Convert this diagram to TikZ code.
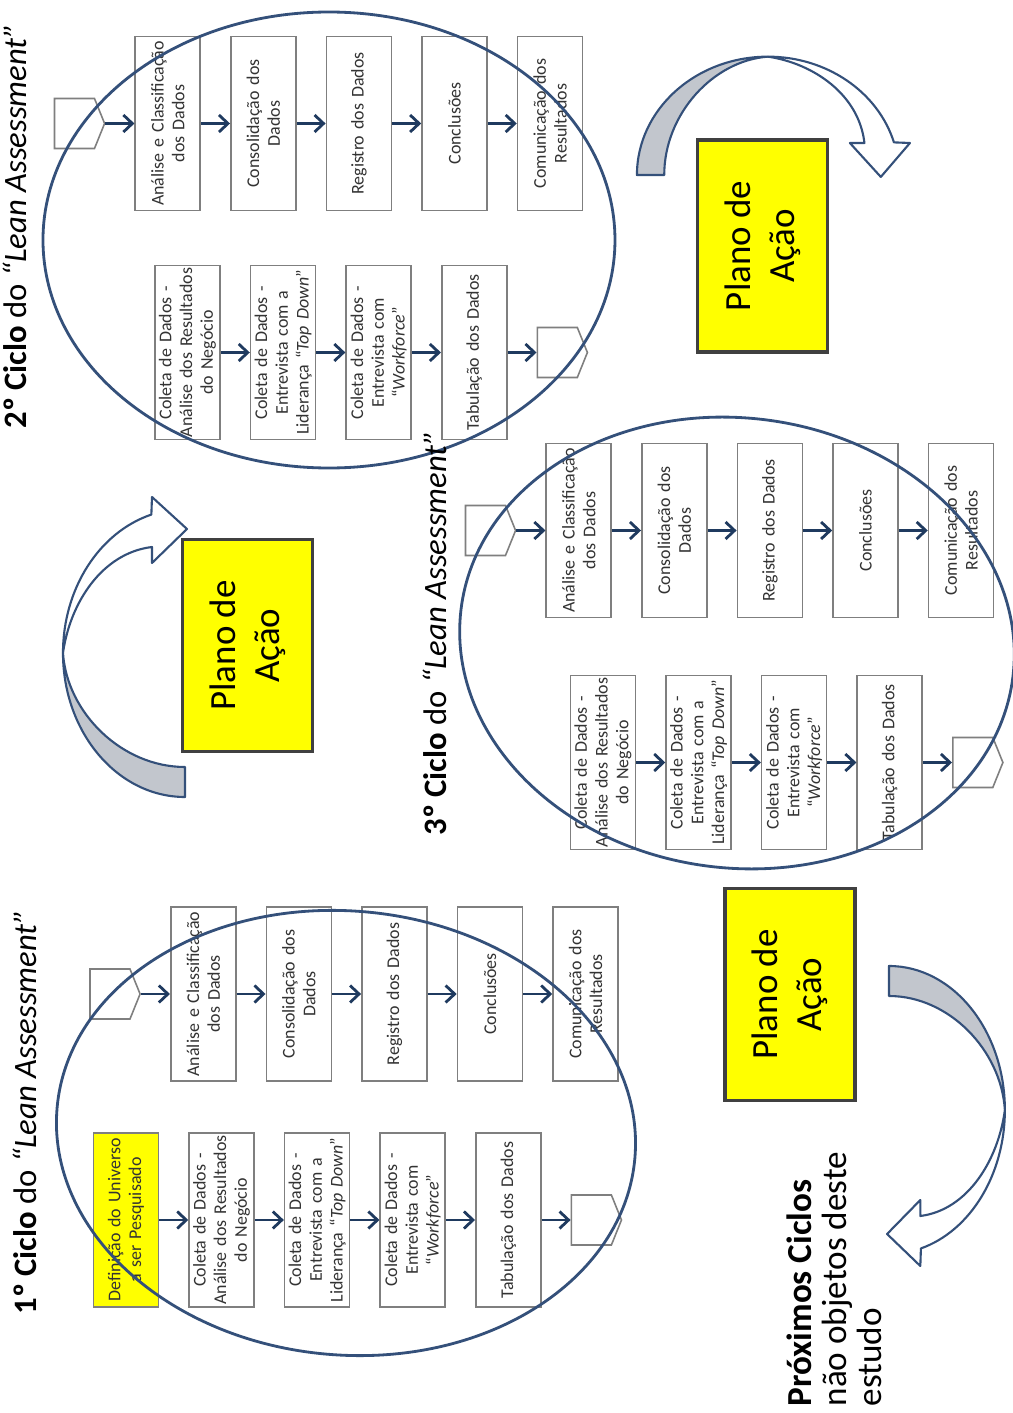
\documentclass[tikz,border=0pt]{standalone}
\usepackage{fontspec}
\setmainfont{Carlito}
\usetikzlibrary{arrows.meta,positioning,shapes.symbols}
\definecolor{ovalblue}{HTML}{34507A}
\definecolor{arrownavy}{HTML}{1F3A5F}
\definecolor{boxgrey}{HTML}{7F7F7F}
\definecolor{textgrey}{HTML}{333333}
\definecolor{planyellow}{HTML}{FFFF00}
\definecolor{ribbongrey}{HTML}{C2C6CD}
\tikzset{
  stepbox/.style={
    rectangle, draw=boxgrey, line width=0.45pt, fill=#1,
    minimum width=1.74cm, minimum height=0.65cm, text width=1.74cm,
    align=center, inner sep=0pt, text=textgrey,
    font=\fontsize{5.1}{5.9}\selectfont
  },
  stepbox/.default=white,
  offpage/.style={
    signal, signal to=south, signal pointer angle=136,
    draw=boxgrey, line width=0.45pt, fill=white,
    minimum width=0.5cm, minimum height=0.4cm, inner sep=0pt
  },
  stepflow/.style={-{Straight Barb[length=0.9mm,width=1.7mm]}, line width=0.8pt, draw=arrownavy},
  cycleoval/.style={draw=ovalblue, line width=0.8pt},
  cycletitle/.style={anchor=base, inner sep=0pt, font=\fontsize{9.3}{11}\selectfont},
  planbox/.style={
    rectangle, draw=black!75, line width=0.9pt, fill=planyellow,
    minimum width=2.12cm, minimum height=1.3cm, align=center,
    font=\fontsize{10.5}{12.5}\selectfont
  },
  pics/ribbonarrow/.style={code={
    \filldraw[fill=ribbongrey, draw=ovalblue, line width=0.6pt, line join=round]
      (-1.44,0) arc[start angle=180, end angle=90, x radius=1.44, y radius=1.22]
      .. controls (-0.6,1.18) and (-1.14,0.63) .. (-1.14,0) -- cycle;
    \filldraw[fill=white, draw=ovalblue, line width=0.6pt, line join=round]
      (0,1.22) arc[start angle=90, end angle=16, x radius=1.44, y radius=1.22]
      -- (1.56,0.33) -- (1.24,-0.02) -- (0.9,0.33) -- (1.06,0.33)
      .. controls (1.0,0.83) and (0.5,1.15) .. (0,1.22) -- cycle;
  }}
}
\begin{document}
\begin{tikzpicture}[rotate=90, transform shape, node distance=0.29cm]
\path[use as bounding box, fill=white] (0,0) rectangle (14.13,10.12);

% 1st cycle
\node[stepbox=planyellow] (c1def) at (1.93,8.86) {Definição do Universo\\a ser Pesquisado};
\node[stepbox, below=of c1def] (c1neg) {Coleta de Dados -\\Análise dos Resultados\\do Negócio};
\node[stepbox, below=of c1neg] (c1lid) {Coleta de Dados -\\Entrevista com a\\Liderança “\textit{Top Down}”};
\node[stepbox, below=of c1lid] (c1work) {Coleta de Dados -\\Entrevista com\\“\textit{Workforce}”};
\node[stepbox, below=of c1work] (c1tab) {Tabulação dos Dados};
\node[offpage, below=of c1tab] (c1out) {};
\node[offpage] (c1in) at (4.19,9.02) {};
\node[stepbox, below=of c1in] (c1ana) {Análise e Classificação\\dos Dados};
\node[stepbox, below=of c1ana] (c1cons) {Consolidação dos\\Dados};
\node[stepbox, below=of c1cons] (c1reg) {Registro dos Dados};
\node[stepbox, below=of c1reg] (c1conc) {Conclusões};
\node[stepbox, below=of c1conc] (c1com) {Comunicação dos\\Resultados};

\draw[stepflow] (c1def) -- (c1neg);
\draw[stepflow] (c1neg) -- (c1lid);
\draw[stepflow] (c1lid) -- (c1work);
\draw[stepflow] (c1work) -- (c1tab);
\draw[stepflow] (c1tab) -- (c1out);
\draw[stepflow] (c1in) -- (c1ana);
\draw[stepflow] (c1ana) -- (c1cons);
\draw[stepflow] (c1cons) -- (c1reg);
\draw[stepflow] (c1reg) -- (c1conc);
\draw[stepflow] (c1conc) -- (c1com);

\draw[cycleoval, rotate around={-5:(2.8,6.66)}] (2.8,6.66) ellipse [x radius=2.22, y radius=2.9];
\node[cycletitle] (c1title) at (3.01,9.75) {\textbf{1º Ciclo} do \textit{“Lean Assessment”}};

% 2nd cycle
\node[stepbox] (c2neg) at (10.605,8.245) {Coleta de Dados -\\Análise dos Resultados\\do Negócio};
\node[stepbox, below=of c2neg] (c2lid) {Coleta de Dados -\\Entrevista com a\\Liderança “\textit{Top Down}”};
\node[stepbox, below=of c2lid] (c2work) {Coleta de Dados -\\Entrevista com\\“\textit{Workforce}”};
\node[stepbox, below=of c2work] (c2tab) {Tabulação dos Dados};
\node[offpage, below=of c2tab] (c2out) {};
\node[offpage] (c2in) at (12.895,9.375) {};
\node[stepbox, below=of c2in] (c2ana) {Análise e Classificação\\dos Dados};
\node[stepbox, below=of c2ana] (c2cons) {Consolidação dos\\Dados};
\node[stepbox, below=of c2cons] (c2reg) {Registro dos Dados};
\node[stepbox, below=of c2reg] (c2conc) {Conclusões};
\node[stepbox, below=of c2conc] (c2com) {Comunicação dos\\Resultados};

\draw[stepflow] (c2neg) -- (c2lid);
\draw[stepflow] (c2lid) -- (c2work);
\draw[stepflow] (c2work) -- (c2tab);
\draw[stepflow] (c2tab) -- (c2out);
\draw[stepflow] (c2in) -- (c2ana);
\draw[stepflow] (c2ana) -- (c2cons);
\draw[stepflow] (c2cons) -- (c2reg);
\draw[stepflow] (c2reg) -- (c2conc);
\draw[stepflow] (c2conc) -- (c2com);

\draw[cycleoval] (11.73,6.83) ellipse [x radius=2.28, y radius=2.86];
\node[cycletitle] (c2title) at (11.87,9.85) {\textbf{2º Ciclo} do \textit{“Lean Assessment”}};

% 3rd cycle
\node[stepbox] (c3neg) at (6.505,4.09) {Coleta de Dados -\\Análise dos Resultados\\do Negócio};
\node[stepbox, below=of c3neg] (c3lid) {Coleta de Dados -\\Entrevista com a\\Liderança “\textit{Top Down}”};
\node[stepbox, below=of c3lid] (c3work) {Coleta de Dados -\\Entrevista com\\“\textit{Workforce}”};
\node[stepbox, below=of c3work] (c3tab) {Tabulação dos Dados};
\node[offpage, below=of c3tab] (c3out) {};
\node[offpage] (c3in) at (8.825,5.265) {};
\node[stepbox, below=of c3in] (c3ana) {Análise e Classificação\\dos Dados};
\node[stepbox, below=of c3ana] (c3cons) {Consolidação dos\\Dados};
\node[stepbox, below=of c3cons] (c3reg) {Registro dos Dados};
\node[stepbox, below=of c3reg] (c3conc) {Conclusões};
\node[stepbox, below=of c3conc] (c3com) {Comunicação dos\\Resultados};

\draw[stepflow] (c3neg) -- (c3lid);
\draw[stepflow] (c3lid) -- (c3work);
\draw[stepflow] (c3work) -- (c3tab);
\draw[stepflow] (c3tab) -- (c3out);
\draw[stepflow] (c3in) -- (c3ana);
\draw[stepflow] (c3ana) -- (c3cons);
\draw[stepflow] (c3cons) -- (c3reg);
\draw[stepflow] (c3reg) -- (c3conc);
\draw[stepflow] (c3conc) -- (c3com);

\draw[cycleoval, rotate around={-7:(7.7,2.75)}] (7.7,2.75) ellipse [x radius=2.25, y radius=2.78];
\node[cycletitle] (c3title) at (7.8,5.65) {\textbf{3º Ciclo} do \textit{“Lean Assessment”}};

% action plans between the cycles
\node[planbox] (plan1) at (7.675,7.645) {Plano de\\Ação};
\node[planbox] (plan2) at (11.67,2.495) {Plano de\\Ação};
\node[planbox] (plan3) at (4.185,2.22) {Plano de\\Ação};
\pic at (7.6,8.27) {ribbonarrow};
\pic[rotate=-90, xscale=0.91, yscale=0.97] at (12.38,2.44) {ribbonarrow};
\pic[rotate=180, yscale=0.95] at (3.03,1.23) {ribbonarrow};

\node[anchor=north west, align=left, inner sep=0pt, font=\fontsize{10}{10}\selectfont] (nextcycles) at (0.06,2.26)
  {\textbf{Próximos Ciclos}\\não objetos deste\\estudo};
\end{tikzpicture}
\end{document}
